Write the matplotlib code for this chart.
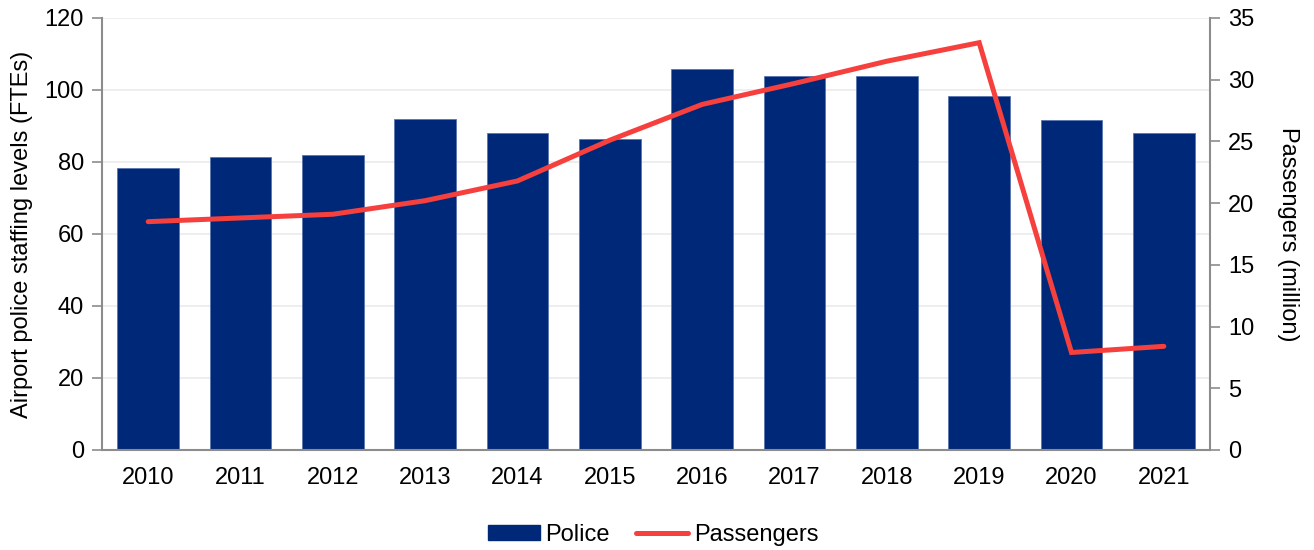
import matplotlib
matplotlib.use("Agg")
import matplotlib.pyplot as plt
from matplotlib.patches import Patch
from matplotlib.lines import Line2D
import numpy as np

years = ["2010", "2011", "2012", "2013", "2014", "2015",
         "2016", "2017", "2018", "2019", "2020", "2021"]
police = [78.3, 81.4, 81.9, 91.9, 88.0, 86.4, 105.8, 103.9, 103.9, 98.2, 91.6, 88.0]
passengers = [18.5, 18.8, 19.1, 20.2, 21.8, 25.1, 28.0, 29.7, 31.5, 33.0, 7.9, 8.4]

plt.rcParams['font.family'] = ['Liberation Sans', 'DejaVu Sans']
FS = 17
BAR = "#002878"
LINE = "#F5403D"
SPINE = "#8c8c8c"

fig = plt.figure(figsize=(13.14, 5.5), dpi=100)
ax = fig.add_axes([102 / 1314, 100 / 550, (1210 - 102) / 1314, 432 / 550])
x = np.arange(len(years))

ax.bar(x, police, width=0.667, color=BAR, edgecolor="#5b74b0", linewidth=0.6, zorder=2)
ax.set_xlim(-0.5, len(years) - 0.5)
ax.set_ylim(0, 120)
ax.set_yticks(range(0, 121, 20))
ax.set_xticks(x)
ax.set_xticklabels(years)
ax.grid(axis="y", color="#ebebeb", linewidth=1.2, zorder=0)
ax.set_axisbelow(True)
ax.set_ylabel("Airport police staffing levels (FTEs)", fontsize=FS, labelpad=8)
ax.tick_params(axis="y", labelsize=FS, length=7, width=1.2, color=SPINE, direction="out", pad=6)
ax.tick_params(axis="x", labelsize=FS, length=0, pad=12)
for s in ["top", "right"]:
    ax.spines[s].set_visible(False)
for s in ["left", "bottom"]:
    ax.spines[s].set_color(SPINE)
    ax.spines[s].set_linewidth(1.5)

ax2 = ax.twinx()
ax2.plot(x, passengers, color=LINE, linewidth=3.6, solid_capstyle="round",
         solid_joinstyle="miter", zorder=3)
ax2.set_ylim(0, 35)
ax2.set_yticks(range(0, 36, 5))
ax2.set_ylabel("Passengers (million)", fontsize=FS, rotation=270, labelpad=32)
ax2.tick_params(axis="y", labelsize=FS, length=7, width=1.2, color=SPINE, direction="out", pad=6)
for s in ["top", "left", "bottom"]:
    ax2.spines[s].set_visible(False)
ax2.spines["right"].set_color(SPINE)
ax2.spines["right"].set_linewidth(1.5)

handles = [Patch(facecolor=BAR, edgecolor=BAR, label="Police"),
           Line2D([0], [0], color=LINE, linewidth=3.6, solid_capstyle="round", label="Passengers")]
fig.legend(handles=handles, loc="center", bbox_to_anchor=(653 / 1314, 1 - 535 / 550),
           ncol=2, frameon=False, fontsize=FS, handlelength=2.2, handleheight=0.6,
           handletextpad=0.25, columnspacing=1.1)

fig.savefig("out.png", dpi=100)
